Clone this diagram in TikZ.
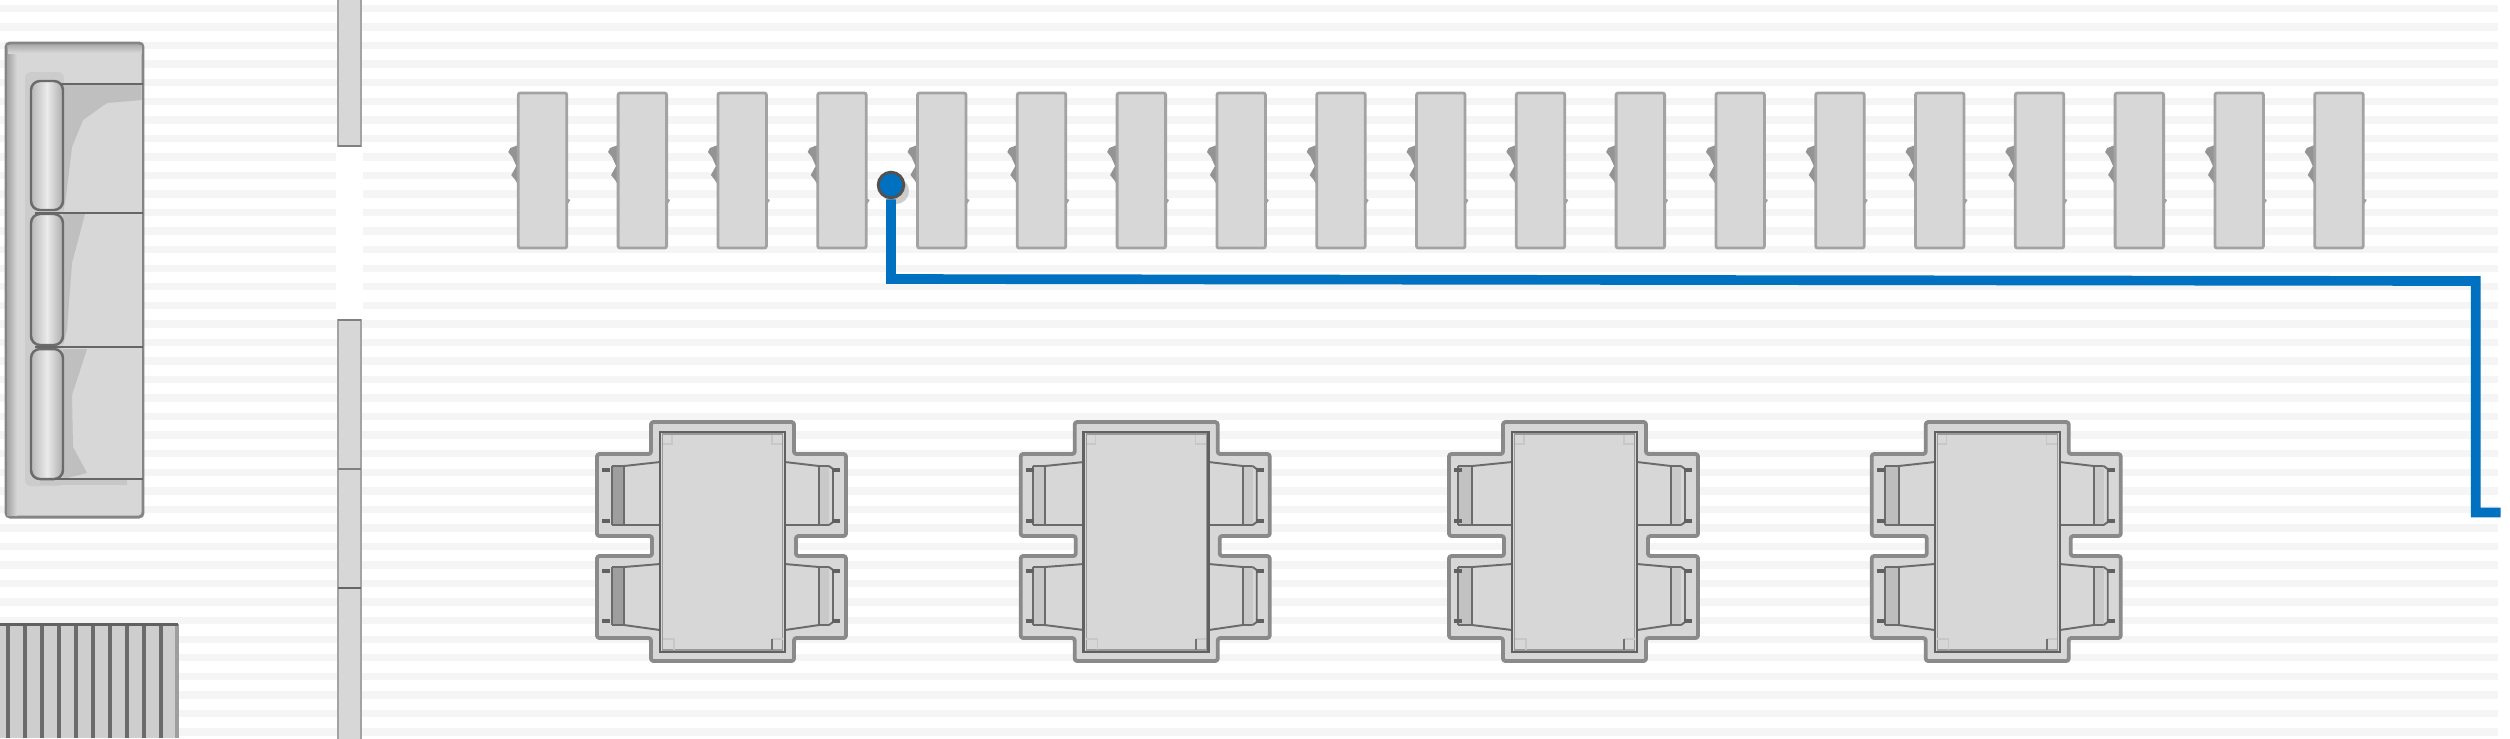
\documentclass[tikz,border=0pt]{standalone}
\definecolor{furn}{HTML}{D7D7D7}
\definecolor{stripe}{HTML}{F5F5F5}
\definecolor{routeblue}{HTML}{0070C0}
\tikzset{
	desk/.style={draw=black!36,fill=furn,line width=.8pt,rounded corners=.2mm},
	wallseg/.style={draw=black!36,fill=furn,line width=.65pt},
	outline/.style={draw=black!46,fill=furn,line width=1.1pt,rounded corners=.25mm,line join=round},
	tabletop/.style={draw=black!62,fill=furn,line width=.7pt},
	thinmark/.style={draw=black!58,line width=.55pt},
	route/.style={draw=routeblue,line width=2.75pt,line join=miter},
	seatline/.style={draw=black!60,line width=.75pt},
	endpoint/.style={circle,draw=black!68,fill=routeblue,line width=.85pt,minimum size=2.55mm,inner sep=0pt}
}
\begin{document}
\begin{tikzpicture}[x=0.01cm,y=-0.01cm]
		\useasboundingbox (0,0) rectangle (2510,738);
		\fill[white] (0,0) rectangle (2510,738);
		% floor
		\foreach \k in {-4,...,35}
			\fill[stripe] (0,{82.7+18.55*\k-3.7}) rectangle (2498,{82.7+18.55*\k+3.7});
		% sofa
		\draw[draw=black!48,fill=furn,line width=.85pt,rounded corners=.4mm] (6,43) rectangle (143,517);
		\shade[left color=black!36,right color=furn] (7,45) rectangle (17,515);
		\shade[top color=black!32,bottom color=furn] (8,45) rectangle (141.5,53);
		\fill[black!20,rounded corners=.6mm] (25,72) rectangle (64,486);
		\fill[furn] (63,84) rectangle (141.5,479);
		\fill[black!25] (63,84)--(141.5,84)--(141.5,100)--(107,103)--(83,120)--(72,147)--(66,197)--(63,213)--cycle;
		\fill[black!25] (63,214)--(85,214)--(72,263)--(67,330)--(63,345)--cycle;
		\fill[black!25] (63,349)--(87,349)--(72,395)--(73,447)--(87,473)--(63,479)--cycle;
		\fill[black!22] (40,479) rectangle (127,485);
		\foreach \a/\b in {81/210,214/345,349/479}{
			\shade[left color=black!28,right color=black!32,middle color=black!8,rounded corners=.9mm] (31,\a) rectangle (63,\b);
			\draw[draw=black!58,line width=.7pt,rounded corners=.9mm] (31,\a) rectangle (63,\b);
		}
		\draw[seatline] (60,84)--(143,84);
		\draw[seatline] (35,213)--(143,213);
		\draw[seatline] (35,347)--(143,347);
		\draw[seatline] (55,479)--(143,479);
		% rug
		\fill[furn!96!black] (0,624) rectangle (177,738);
		\foreach \x in {8,25,42,59,76,93,110,127,144,161}
			\draw[draw=black!58,line width=1pt] (\x,624)--(\x,738);
		\draw[draw=black!38,line width=1pt] (177,624)--(177,738);
		\draw[draw=black!62,line width=.85pt] (0,624)--(178,624);
		% wall
		\fill[white] (336,146) rectangle (363,320);
		\draw[wallseg] (338,-5) rectangle (361,146);
		\draw[wallseg] (338,320) rectangle (361,745);
		\draw[draw=black!50,line width=.55pt] (338,146)--(361,146);
		\draw[draw=black!50,line width=.55pt] (338,320)--(361,320);
		\draw[draw=black!50,line width=.45pt] (338,469)--(361,469);
		\draw[draw=black!60,line width=.55pt] (338,588)--(361,588);
		% desks
		\foreach \k in {0,...,18}{
			\begin{scope}[shift={({518.3+99.8*\k},0)}]
				\fill[black!42] (0,145)--(-8,148)--(-10,152)--(-6,157)--(-2,166)--(-7,175)--(-3,180)--(0,185)--cycle;
				\fill[black!38] (47,197)--(52,200)--(47,208)--cycle;
				\draw[desk] (0,93) rectangle (48.5,248);
			\end{scope}
		}
		% tables
		\foreach \ox/\lb/\ls/\band in {597/15/27/38,1020.7/12/24/22,1449/9/23/24,1871.7/13/27/26}{
			\begin{scope}[shift={(\ox,422)}]
				\draw[outline] (54,0)--(197,0)--(197,32)--(249,32)--(249,114)--(199,114)--(199,134)--(249,134)--(249,216)--(197,216)--(197,239)--(54,239)--(54,216)--(0,216)--(0,134)--(55,134)--(55,114)--(0,114)--(0,32)--(54,32)--cycle;
				% chairs
				\foreach \lega/\legb/\tl/\tr/\bl/\br in {48/99/44/40/103/103,149/199/145/142/203/208}{
					\fill[black!\band] (\lb,\tl) rectangle (\ls,\bl);
					\fill[black!21] (222,\tl) rectangle (232,\bl);
					\draw[thinmark] (\ls,\tl)--(63,\tr);
					\draw[thinmark] (\ls,\bl)--(63,\br);
					\draw[thinmark] (\lb,\tl)--(\ls,\tl);
					\draw[thinmark] (\lb,\bl)--(\ls,\bl);
					\draw[thinmark] (\lb,\tl)--(\lb,\bl);
					\draw[thinmark] (\ls,\tl)--(\ls,\bl);
					\draw[thinmark] (188,\tr)--(222,\tl)--(232,\tl);
					\draw[thinmark] (188,\br)--(222,\bl)--(232,\bl);
					\draw[thinmark] (222,\tl)--(222,\bl);
					\draw[thinmark] (232,\tl)--(236,{\tl+3})--(236,{\bl-3})--(232,\bl);
					\draw[draw=black!62,line width=1.2pt] (5,\lega)--(13,\lega);
					\draw[draw=black!62,line width=1.2pt] (5,\legb)--(13,\legb);
					\draw[draw=black!62,line width=1.2pt] (235,\lega)--(243,\lega);
					\draw[draw=black!62,line width=1.2pt] (235,\legb)--(243,\legb);
				}
				\draw[tabletop] (63,10) rectangle (188,230);
				\draw[draw=black!40,line width=.3pt] (65.5,12) rectangle (185.5,228);
				% corner marks
				\draw[draw=black!22,line width=.4pt] (65.5,217)--(77,217)--(77,228);
				\draw[draw=black!22,line width=.4pt] (185.5,217)--(175,217);
				\draw[draw=black!55,line width=.5pt] (175,217)--(175,228);
				\draw[draw=black!22,line width=.4pt] (66,22)--(75,22)--(75,13);
				\draw[draw=black!22,line width=.4pt] (185,22)--(175,22)--(175,13);
			\end{scope}
		}
		% cable run
		\fill[black!20] (896,191) circle (13);
		\node[endpoint] (socket) at (891,185) {};
		\coordinate (bendA) at (891,279);
		\coordinate (bendB) at (2475.7,281);
		\coordinate (bendC) at (2475.7,512.5);
		\coordinate (cableEnd) at (2500.7,512.5);
		\draw[route] (socket)--(bendA)--(bendB)--(bendC)--(cableEnd);
		\end{tikzpicture}
\end{document}
